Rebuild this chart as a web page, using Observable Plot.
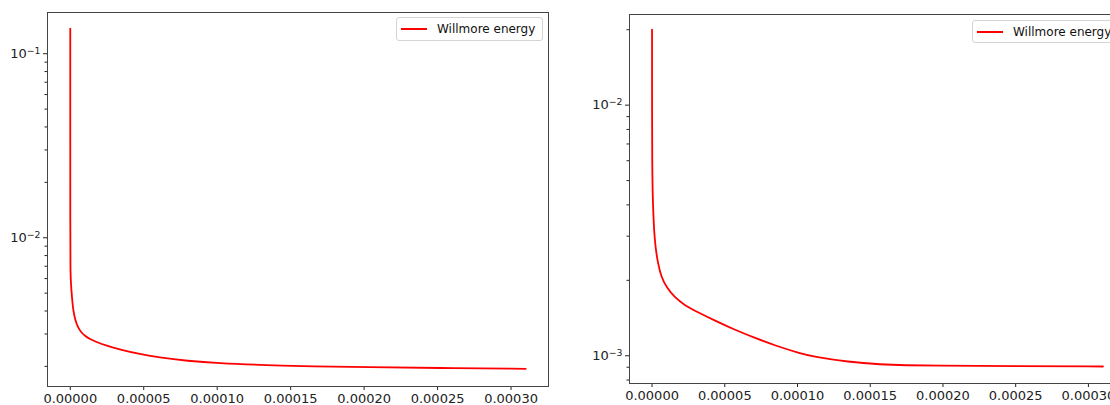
<!DOCTYPE html>
<html><head><meta charset="utf-8">
<script src="https://cdn.jsdelivr.net/npm/d3@7"></script>
<script src="https://cdn.jsdelivr.net/npm/@observablehq/plot@0.6"></script>
<style>
html,body{margin:0;padding:0;background:#fff;overflow:hidden;width:1110px;height:405px;}
#wrap{position:relative;width:1110px;height:405px;overflow:hidden;font-family:"DejaVu Sans",sans-serif;}
.panel{position:absolute;top:0;}
.legend{position:absolute;box-sizing:border-box;border:1px solid #d4d4d4;border-radius:3px;background:rgba(255,255,255,0.8);font-size:12px;color:#111;white-space:nowrap;}
.legend .sw{position:absolute;height:2px;background:#ff0000;}
.legend .lb{position:absolute;line-height:14px;}
</style>
</head><body><div id="wrap"></div>
<script>
// ---- data ----
const seriesName = "Willmore energy";

const leftX = [0, 0, 1e-7, 5e-7, 1.16e-6, 2.0e-6, 3.4e-6, 5.4e-6, 7.5e-6, 1.02e-5, 1.35e-5, 1.7e-5, 2.38e-5, 3.4e-5, 4.63e-5, 6e-5, 8e-5, 1.0e-4, 1.34e-4, 1.65e-4, 2.02e-4, 2.5e-4, 3.1e-4];
const leftY = [0.137, 0.0085, 0.00664, 0.00551, 0.00475, 0.00403, 0.00356, 0.00324, 0.00306, 0.00292, 0.00281, 0.00273, 0.0026, 0.00247, 0.00234, 0.00224, 0.00214, 0.00208, 0.00203, 0.0020, 0.00198, 0.00196, 0.00194];

const rightX = [0, 0, 9e-7, 1.4e-6, 2.3e-6, 4.1e-6, 6.4e-6, 9.8e-6, 1.55e-5, 2.24e-5, 3.16e-5, 4.3e-5, 5.67e-5, 7.05e-5, 8.42e-5, 1.025e-4, 1.117e-4, 1.346e-4, 1.575e-4, 1.75e-4, 1.92e-4, 2.5e-4, 3.1e-4];
const rightY = [0.0200, 0.0050, 0.00369, 0.00317, 0.00272, 0.00233, 0.00206, 0.00188, 0.00171, 0.00159, 0.00149, 0.001383, 0.00127, 0.00118, 0.0011, 0.00102, 0.00099, 0.000945, 0.000922, 0.000916, 0.000913, 0.000909, 0.000906];

const xTicks = [0, 0.00005, 0.0001, 0.00015, 0.0002, 0.00025, 0.0003];
const xDomain = [-1.55e-5, 3.255e-4];

const leftYDomain = [0.001555, 0.1675];
const leftYMajor = [0.01, 0.1];
const leftYMinor = [0.002, 0.003, 0.004, 0.005, 0.006, 0.007, 0.008, 0.009, 0.02, 0.03, 0.04, 0.05, 0.06, 0.07, 0.08, 0.09];

const rightYDomain = [0.000775, 0.0230];
const rightYMajor = [0.001, 0.01];
const rightYMinor = [0.0008, 0.0009, 0.002, 0.003, 0.004, 0.005, 0.006, 0.007, 0.008, 0.009, 0.02];

// ---- drawing ----
const fmtPow = d => "10^\u2212" + Math.round(Math.abs(Math.log10(d)));

function supLabels(svg) {
  const NS = "http://www.w3.org/2000/svg";
  svg.querySelectorAll('g[aria-label="y-axis tick label"] text').forEach(t => {
    const m = t.textContent.match(/^10\^(.+)$/);
    if (!m) return;
    t.textContent = "";
    const a = document.createElementNS(NS, "tspan");
    a.textContent = "10";
    const b = document.createElementNS(NS, "tspan");
    b.setAttribute("dy", "-0.45em");
    b.setAttribute("font-size", "0.72em");
    b.textContent = m[1];
    t.append(a, b);
  });
}

function panel({xs, ys, yDomain, yMajor, yMinor, width, plotW, marginTop, marginBottom}) {
  const data = xs.map((x, i) => ({x, y: ys[i]}));
  const svg = Plot.plot({
    width, height: 405,
    marginLeft: 47, marginRight: width - 47 - plotW, marginTop, marginBottom,
    style: {fontFamily: "DejaVu Sans, sans-serif", fontSize: "13px", color: "#222", background: "transparent", overflow: "visible"},
    x: {domain: xDomain},
    y: {type: "log", domain: yDomain},
    marks: [
      Plot.axisX({ticks: xTicks, tickFormat: d3.format(".5f"), tickSize: 4, tickPadding: 3, label: null}),
      Plot.axisY({ticks: yMinor, tickSize: 2.5, tickFormat: () => "", label: null}),
      Plot.axisY({ticks: yMajor, tickSize: 4, tickPadding: 3, tickFormat: fmtPow, label: null}),
      Plot.line(data, {x: "x", y: "y", stroke: "#ff0000", strokeWidth: 1.8, curve: "basis"}),
      Plot.frame({stroke: "#444", strokeWidth: 1})
    ]
  });
  supLabels(svg);
  return svg;
}

function legend(left, top, w, h) {
  const d = document.createElement("div");
  d.className = "legend";
  d.style.left = left + "px"; d.style.top = top + "px";
  d.style.width = w + "px"; d.style.height = h + "px";
  const sw = document.createElement("div");
  sw.className = "sw";
  sw.style.left = "4px"; sw.style.width = "26px"; sw.style.top = (h / 2 - 2) + "px";
  const lb = document.createElement("div");
  lb.className = "lb";
  lb.style.left = "40px"; lb.style.top = (h / 2 - 8) + "px";
  lb.textContent = seriesName;
  d.append(sw, lb);
  return d;
}

const wrap = document.getElementById("wrap");

const p1 = panel({xs: leftX, ys: leftY, yDomain: leftYDomain, yMajor: leftYMajor, yMinor: leftYMinor,
  width: 560, plotW: 501, marginTop: 12, marginBottom: 19});
p1.classList.add("panel"); p1.style.left = "0px";
wrap.append(p1);

const p2 = panel({xs: rightX, ys: rightY, yDomain: rightYDomain, yMajor: rightYMajor, yMinor: rightYMinor,
  width: 555, plotW: 496, marginTop: 14, marginBottom: 22});
p2.classList.add("panel"); p2.style.left = "582px";
wrap.append(p2);

wrap.append(legend(396, 17, 147, 24));
wrap.append(legend(972, 20, 147, 23));
</script>
</body></html>
